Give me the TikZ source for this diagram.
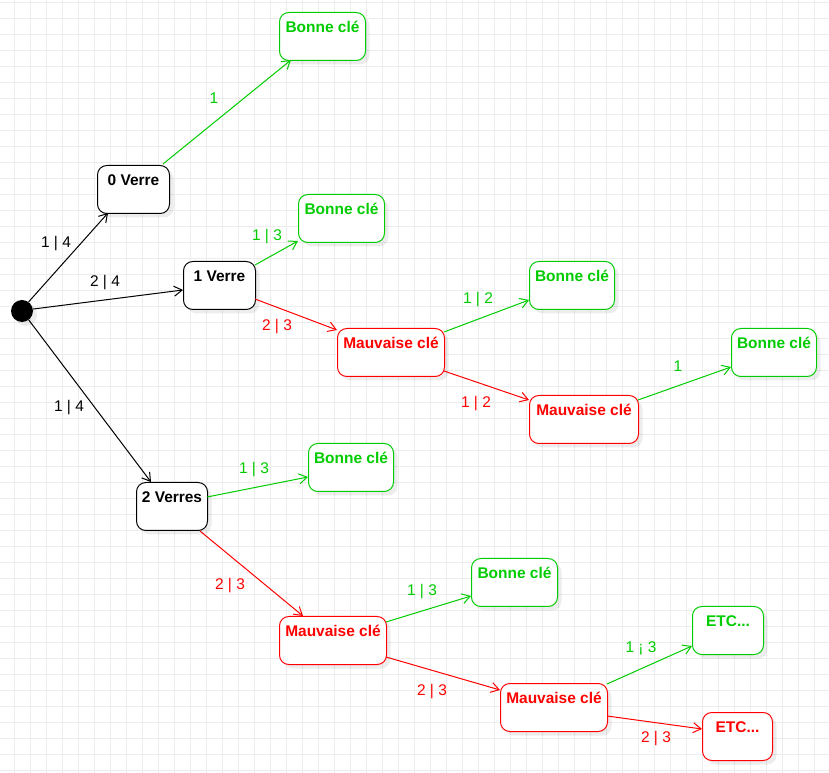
\documentclass[tikz,border=0pt]{standalone}
\usepackage{fontspec}
\setmainfont{Liberation Sans}
\usetikzlibrary{arrows.meta,shadows}
\definecolor{gr}{RGB}{0,204,0}
\definecolor{rd}{RGB}{255,0,0}
\definecolor{gridc}{RGB}{236,236,236}
\begin{document}
\begin{tikzpicture}[x=0.75pt,y=-0.75pt,
  state/.style={draw, rounded corners=7pt, line width=0.75pt, fill=white,
    font=\bfseries\fontsize{11.6}{13}\selectfont, inner xsep=0pt, inner ysep=0pt,
    text height=14.8pt, text depth=21.2pt, anchor=north west,
    drop shadow={shadow xshift=3pt, shadow yshift=-3pt, fill=black, opacity=0.07}},
  bl/.style={state, draw=black, text=black},
  gs/.style={state, draw=gr, text=gr},
  rs/.style={state, draw=rd, text=rd},
  conn/.style={line width=0.75pt, -{Straight Barb[length=6pt,width=7.5pt]}},
  lab/.style={font=\fontsize{11.6}{13}\selectfont, inner sep=0pt, yshift=-2pt}
]
\useasboundingbox (0,0) rectangle (829,773);
\fill[white] (0,0) rectangle (829,773);
\foreach \gx in {0,...,51} \draw[gridc, line width=0.75pt] (14.3+16*\gx,0) -- (14.3+16*\gx,773);
\foreach \gy in {0,...,48} \draw[gridc, line width=0.75pt] (0,2.3+16*\gy) -- (829,2.3+16*\gy);

% start
\node[circle, fill=black, minimum size=16.5pt, inner sep=0pt,
  drop shadow={shadow xshift=3pt, shadow yshift=-3pt, fill=black, opacity=0.07}] (s) at (22,311) {};

% states
\node[bl, minimum width=54pt] (n0) at (97,165) {0 Verre};
\node[gs, minimum width=64.5pt] (b1) at (279,12) {Bonne clé};
\node[bl, minimum width=54pt] (n1) at (183,261) {1 Verre};
\node[gs, minimum width=64.5pt] (b2) at (298,194) {Bonne clé};
\node[rs, minimum width=80.25pt] (m1) at (337,328) {Mauvaise clé};
\node[gs, minimum width=63.75pt] (b3) at (529,261) {Bonne clé};
\node[gs, minimum width=63.75pt] (b4) at (731,328) {Bonne clé};
\node[rs, minimum width=81.75pt] (m2) at (529,395) {Mauvaise clé};
\node[bl, minimum width=53.25pt] (n2) at (136,482) {2 Verres};
\node[gs, minimum width=63.75pt] (b5) at (308,443) {Bonne clé};
\node[rs, minimum width=80.25pt] (m3) at (279,616) {Mauvaise clé};
\node[gs, minimum width=64.5pt] (b6) at (471,558) {Bonne clé};
\node[gs, minimum width=53.25pt] (e1) at (692,606) {ETC...};
\node[rs, minimum width=80.25pt] (m4) at (500,683) {Mauvaise clé};
\node[rs, minimum width=52.5pt] (e2) at (702,712) {ETC...};

% connectors
\draw[conn, black] (s.54) -- ([shift={(11,48)}]n0.north west);
\draw[conn, black] (s.10) -- ([shift={(0,29)}]n1.north west);
\draw[conn, black] (s.-53) -- ([shift={(15,0)}]n2.north west);
\draw[conn, gr] ([shift={(66,-1)}]n0.north west) -- ([shift={(12,48)}]b1.north west);
\draw[conn, gr] ([shift={(72,4)}]n1.north west) -- ([shift={(0,47)}]b2.north west);
\draw[conn, rd] ([shift={(72,38)}]n1.north west) -- ([shift={(0,2)}]m1.north west);
\draw[conn, gr] ([shift={(107,4)}]m1.north west) -- ([shift={(0,39)}]b3.north west);
\draw[conn, rd] ([shift={(107,43)}]m1.north west) -- ([shift={(0,5)}]m2.north west);
\draw[conn, gr] ([shift={(109,5)}]m2.north west) -- ([shift={(0,39)}]b4.north west);
\draw[conn, gr] ([shift={(71,15)}]n2.north west) -- ([shift={(0,34)}]b5.north west);
\draw[conn, rd] ([shift={(64,49)}]n2.north west) -- ([shift={(24,0)}]m3.north west);
\draw[conn, gr] ([shift={(107,6)}]m3.north west) -- ([shift={(0,38)}]b6.north west);
\draw[conn, rd] ([shift={(107,41)}]m3.north west) -- ([shift={(0,7)}]m4.north west);
\draw[conn, gr] ([shift={(107,1)}]m4.north west) -- ([shift={(0,40)}]e1.north west);
\draw[conn, rd] ([shift={(107,33)}]m4.north west) -- ([shift={(0,17)}]e2.north west);

% labels
\node[lab, text=black] (l1) at (56,241) {1 | 4};
\node[lab, text=black] (l2) at (105,280) {2 | 4};
\node[lab, text=black] (l3) at (69,405) {1 | 4};
\node[lab, text=gr] (l4) at (214,96) {1};
\node[lab, text=gr] (l5) at (267,234) {1 | 3};
\node[lab, text=rd] (l6) at (277,324) {2 | 3};
\node[lab, text=gr] (l7) at (478,297) {1 | 2};
\node[lab, text=rd] (l8) at (476,401) {1 | 2};
\node[lab, text=gr] (l9) at (678,364) {1};
\node[lab, text=gr] (l10) at (254,467) {1 | 3};
\node[lab, text=rd] (l11) at (230,583) {2 | 3};
\node[lab, text=gr] (l12) at (422,589) {1 | 3};
\node[lab, text=rd] (l13) at (432,689) {2 | 3};
\node[lab, text=gr] (l14) at (641,646) {1 ¡ 3};
\node[lab, text=rd] (l15) at (656,736) {2 | 3};
\end{tikzpicture}
\end{document}
